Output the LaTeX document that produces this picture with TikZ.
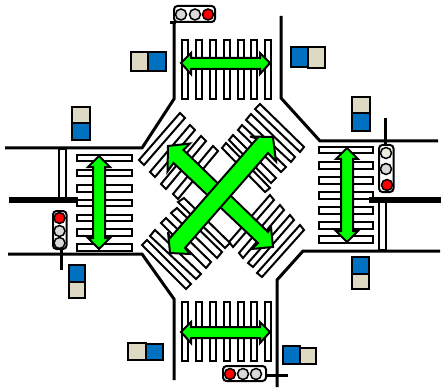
\documentclass[tikz,border=0pt]{standalone}
\definecolor{gogreen}{HTML}{00FF00}
\definecolor{paneblue}{HTML}{0070C0}
\definecolor{panetan}{HTML}{DDD9C3}
\definecolor{lampgrey}{HTML}{D9D9D9}
\definecolor{lampcream}{HTML}{EEECE1}
\begin{document}
\begin{tikzpicture}[x=1pt,y=-1pt,
  road/.style={line width=3pt,black},
  median/.style={line width=5.5pt,black},
  polestem/.style={line width=3pt,black},
  zebra/.style={draw=black,line width=2pt,fill=white,line join=miter},
  bigarrow/.style={draw=black,line width=2pt,fill=gogreen,line join=miter,miter limit=6},
  pane/.style={draw=black,line width=2pt},
  housing/.style={draw=black,line width=2pt,fill=white,rounded corners=3.5pt},
  lamp/.style={draw=black,line width=1.5pt}]
\useasboundingbox (0,0) rectangle (441,390);
% top and bottom crossings
\foreach \xa in {181,195,209,223,236.5,250,264}{
  \draw[zebra] (\xa+1,40) rectangle (\xa+7,99);
  \draw[zebra] (\xa+1,302) rectangle (\xa+7,361);
}
% left crossing
\foreach \ya/\yb in {155/161.5,170/176,185/191.5,200/206,215/221,229/235.5,244/251}
  \draw[zebra] (77,\ya) rectangle (132,\yb);
% right crossing
\foreach \ya/\yb in {147/153.5,162/168.5,177/183.5,192/199,207/213.5,222/228.5,236/242.5}
  \draw[zebra] (319,\ya) rectangle (372.5,\yb);
% diagonal crossings
\draw[zebra] (139,160)--(180,113)--(185,118)--(144,165)--cycle;
\draw[zebra] (150,172)--(190,125)--(195,130)--(155,177)--cycle;
\draw[zebra] (161,184)--(201,136)--(206,141)--(166,189)--cycle;
\draw[zebra] (173,194)--(213,146)--(218,151)--(178,199)--cycle;
\draw[zebra] (260,104)--(304,147)--(300,152)--(255,109)--cycle;
\draw[zebra] (251,114)--(295,157)--(291,162)--(246,120)--cycle;
\draw[zebra] (242,125)--(286,167)--(281,172)--(238,130)--cycle;
\draw[zebra] (233,135)--(276,178)--(271,183)--(229,140)--cycle;
\draw[zebra] (226,143)--(270,188)--(265,192)--(222,148)--cycle;
\draw[zebra] (257,273)--(300,225)--(304,230)--(262,277)--cycle;
\draw[zebra] (248,263)--(290,215)--(294,220)--(253,267)--cycle;
\draw[zebra] (239,253)--(280,205)--(284,210)--(243,258)--cycle;
\draw[zebra] (229,242)--(270,195)--(274,200)--(233,247)--cycle;
\draw[zebra] (142,245)--(147,240)--(191,284)--(186,289)--cycle;
\draw[zebra] (150,236)--(155,230)--(201,274)--(196,279)--cycle;
\draw[zebra] (161,223)--(166,218)--(211,262)--(206,268)--cycle;
\draw[zebra] (171,213)--(177,208)--(222,252)--(217,258)--cycle;
\draw[zebra] (178,202)--(184,198)--(230,243)--(225,248)--cycle;
% road edges
\draw[road,line join=miter] (174,22)--(174,99)--(142,148)--(5,148);
\draw[road,line join=miter] (281,16)--(281,98)--(320,141)--(438,141);
\draw[road,line join=miter] (8,254)--(142,254)--(174,299)--(174,380);
\draw[road,line join=miter] (440,251)--(303,251)--(277,280)--(277,387);
% medians and stop bars
\draw[pane,fill=white] (59,149)rectangle(66,199);
\draw[pane,fill=white] (379,201)rectangle(386,250);
\draw[median] (9,200)--(78,200);
\draw[median] (369,200)--(441,200);
% arrows
\draw[bigarrow] (181,63)--(191,53)--(191,58)--(260,58)--(260,53)--(270,63)--(260,74)--(260,69)--(191,69)--(191,74)--cycle;
\draw[bigarrow] (181,332)--(191,322)--(191,327)--(260,327)--(260,322)--(270,332)--(260,343)--(260,338)--(191,338)--(191,343)--cycle;
\draw[bigarrow] (99,156)--(110,167)--(105,167)--(105,238)--(110,238)--(99,249)--(88,238)--(93,238)--(93,167)--(88,167)--cycle;
\draw[bigarrow] (347,148)--(358,159)--(353,159)--(353,231)--(358,231)--(347,242)--(336,231)--(341,231)--(341,159)--(336,159)--cycle;
\draw[bigarrow] (168,146)--(190,143.5)--(183.5,150)--(268,232)--(271,227)--(273,247)--(251.5,249)--(258,243)--(173.5,163)--(167.5,171.5)--cycle;
\draw[bigarrow] (273,137)--(276,161.5)--(268,153)--(185,248)--(190,254)--(170,253)--(168,232)--(170,238)--(257,138.5)--(250,136.5)--cycle;
% signal: top
\draw[polestem] (170,22.5)--(176,22.5);
\draw[line width=1.5pt] (176,22.5)--(193,22.5);
\draw[housing] (174,6) rectangle (215,22);
\draw[lamp,fill=lampgrey] (181,14.5) circle (5.5);
\draw[lamp,fill=lampgrey] (195,14.5) circle (5.5);
\draw[lamp,fill=red] (208,14.5) circle (5.5);
% signal: left
\draw[polestem] (61,249)--(61,270);
\draw[housing] (53,211) rectangle (66.5,249);
\draw[lamp,fill=red] (59.5,218) circle (5.5);
\draw[lamp,fill=lampgrey] (59.5,231) circle (5.5);
\draw[lamp,fill=lampgrey] (59.5,243) circle (5.5);
% signal: right
\draw[polestem] (385,118)--(385,145);
\draw[housing] (379,145) rectangle (393.5,192);
\draw[lamp,fill=lampcream] (386,153) circle (5.5);
\draw[lamp,fill=lampgrey] (386,169) circle (5.5);
\draw[lamp,fill=red] (387,185) circle (5.5);
% signal: bottom
\draw[polestem] (265,375)--(288,375);
\draw[housing] (223,366) rectangle (266,381);
\draw[lamp,fill=red] (230,374) circle (5.5);
\draw[lamp,fill=lampgrey] (243,374) circle (5.5);
\draw[lamp,fill=lampgrey] (256,374) circle (5.5);
% pedestrian signs
\draw[pane,fill=panetan] (131,52) rectangle (148,71);
\draw[pane,fill=paneblue] (148,52) rectangle (166,71);
\draw[pane,fill=paneblue] (291,47) rectangle (308,67);
\draw[pane,fill=panetan] (308,47) rectangle (325,68);
\draw[pane,fill=panetan] (72,107) rectangle (90,123);
\draw[pane,fill=paneblue] (72,123) rectangle (90,140);
\draw[pane,fill=paneblue] (69,265) rectangle (85,282);
\draw[pane,fill=panetan] (69,282) rectangle (85,298);
\draw[pane,fill=panetan] (352,97) rectangle (370,113);
\draw[pane,fill=paneblue] (352,113) rectangle (370,131);
\draw[pane,fill=paneblue] (352,257) rectangle (368.5,274);
\draw[pane,fill=panetan] (352,274) rectangle (368.5,289);
\draw[pane,fill=panetan] (128,343) rectangle (146,360);
\draw[pane,fill=paneblue] (146,344) rectangle (163,360);
\draw[pane,fill=paneblue] (283,346) rectangle (300,364);
\draw[pane,fill=panetan] (300,348) rectangle (316,364);
\end{tikzpicture}
\end{document}
